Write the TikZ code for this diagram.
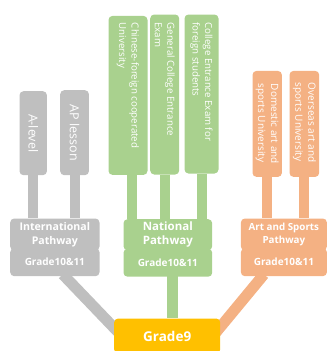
\documentclass[tikz,border=0pt]{standalone}
\usepackage{fontspec}
\setmainfont{Open Sans}
\usetikzlibrary{calc,backgrounds}
\definecolor{grayc}{HTML}{BFBFBF}
\definecolor{greenc}{HTML}{A9D18E}
\definecolor{orangec}{HTML}{F4B183}
\definecolor{goldc}{HTML}{FFC000}
\tikzset{
  bar/.style={rounded corners=4pt, inner sep=0pt, anchor=north west, text=white, align=center},
  vlabel/.style={rotate=-90, anchor=west, align=left, text=white, inner sep=0pt, font=\fontsize{9.7}{12.5}\selectfont},
  stem/.style={line width=10pt},
  link/.style={line width=11pt},
}
\begin{document}
\begin{tikzpicture}[x=1pt,y=-1pt]
\useasboundingbox (0,0) rectangle (327,351);

%%%%% top boxes %%%%%
\node[bar, fill=grayc, minimum width=27.4, minimum height=84] (alevel) at (19.3,91) {};
\node[bar, fill=grayc, minimum width=28.7, minimum height=85] (aplesson) at (60,90) {};
\node[vlabel, anchor=center, font=\fontsize{12.5}{14}\selectfont] at (alevel.center) {A-level};
\node[vlabel, anchor=center, font=\fontsize{12.5}{14}\selectfont] at (aplesson.center) {AP lesson};

\node[bar, fill=greenc, minimum width=39, minimum height=159] (cfu) at (108.3,15.7) {};
\node[bar, fill=greenc, minimum width=29, minimum height=160] (gcee) at (150,14.3) {};
\node[bar, fill=greenc, minimum width=34, minimum height=159] (ceefs) at (184.3,14.3) {};
\node[vlabel] at ([yshift=-7pt]cfu.north) {Chinese-foreign cooperated\\University};
\node[vlabel] at ([yshift=-8pt]gcee.north) {General College Entrance\\Exam};
\node[vlabel] at ([yshift=-8pt]ceefs.north) {College Entrance Exam for\\foreign students};

\node[bar, fill=orangec, minimum width=29.4, minimum height=106] (domestic) at (252.3,70.7) {};
\node[bar, fill=orangec, minimum width=29.7, minimum height=106] (overseas) at (289.3,70.7) {};
\node[vlabel, xshift=2pt, font=\fontsize{10}{13}\selectfont] at ([yshift=-11pt]domestic.north) {Domestic art and\\sports University};
\node[vlabel, xshift=1pt, font=\fontsize{10}{13}\selectfont] at ([yshift=-11pt]overseas.north) {Overseas art and\\sports University};

%%%%% pathways %%%%%
\node[bar, fill=grayc, minimum width=89.3, minimum height=32, font=\bfseries\fontsize{10.6}{14.5}\selectfont] (intl) at (10,218.3) {International\\Pathway};
\node[bar, fill=grayc, minimum width=89.3, minimum height=28, font=\bfseries\fontsize{10}{11}\selectfont] (intlg) at (10,248) {Grade10\&11};

\node[bar, fill=greenc, minimum width=88.7, minimum height=31, font=\bfseries\fontsize{11.5}{14.5}\selectfont] (natl) at (123.3,219) {National\\Pathway};
\node[bar, fill=greenc, minimum width=88.7, minimum height=28, font=\bfseries\fontsize{10}{11}\selectfont] (natlg) at (123.3,248.5) {Grade10\&11};

\node[bar, fill=orangec, minimum width=86, minimum height=32, font=\bfseries\fontsize{9.8}{12.5}\selectfont] (art) at (240.7,218.3) {Art and Sports\\Pathway};
\node[bar, fill=orangec, minimum width=86, minimum height=28, font=\bfseries\fontsize{10}{11}\selectfont] (artg) at (240.7,248) {Grade10\&11};

%%%%% grade 9 %%%%%
\node[bar, fill=goldc, minimum width=106, minimum height=35, font=\bfseries\fontsize{13.5}{15}\selectfont] (grade9) at (114,318.3) {Grade9};

%%%%% stems and links %%%%%
\begin{scope}[on background layer]
\draw[stem, draw=grayc] (alevel.south) -- (alevel.south |- intl.north);
\draw[stem, draw=grayc] (aplesson.south) -- (aplesson.south |- intl.north);
\draw[stem, draw=greenc] ([xshift=4pt]cfu.south) -- ([xshift=4pt]cfu.south |- natl.north);
\draw[stem, draw=greenc] (gcee.south) -- (gcee.south |- natl.north);
\draw[stem, draw=greenc] (ceefs.south) -- (ceefs.south |- natl.north);
\draw[stem, draw=orangec] (domestic.south) -- (domestic.south |- art.north);
\draw[stem, draw=orangec] (overseas.south) -- (overseas.south |- art.north);

\coordinate (gstart) at ($(intlg.south)+(8,-2)$);
\coordinate (gend) at ($(grade9.north west)+(12,22)$);
\coordinate (nstart) at ($(natlg.south)+(4.3,-2)$);
\coordinate (ostart) at ($(artg.south)+(-20,-2)$);
\coordinate (oend) at ($(grade9.north east)+(-11,22)$);
\draw[link, draw=grayc] (gstart) -- (gend);
\draw[link, draw=greenc] (nstart) -- (nstart |- grade9.north);
\draw[link, draw=orangec] (ostart) -- (oend);
\end{scope}
\end{tikzpicture}
\end{document}
